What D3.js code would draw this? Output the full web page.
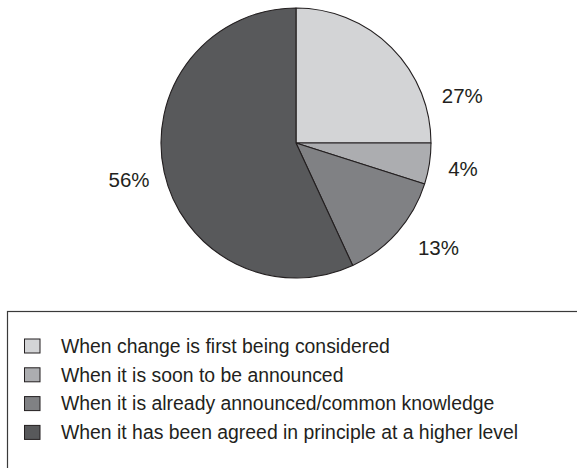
<!DOCTYPE html>
<html>
<head>
<meta charset="utf-8">
<script src="https://cdn.jsdelivr.net/npm/d3@7"></script>
<style>
  body { margin: 0; background: #fff; }
  svg { display: block; font-family: "Liberation Sans", Arial, Helvetica, sans-serif; }
</style>
</head>
<body>
<div id="chart"></div>
<script>
// Categories (legend order = slice order, clockwise from 12 o'clock)
const categories = [
    'When change is first being considered',
    'When it is soon to be announced',
    'When it is already announced/common knowledge',
    'When it has been agreed in principle at a higher level'
];
// Slice sizes as drawn in the picture
const sliceValues = [25, 4.9, 13.2, 56.9];
// Printed labels
const sliceLabels = ['27%', '4%', '13%', '56%'];
const colors = ['#d3d4d6', '#acadb0', '#808184', '#58595b'];

const width = 577;
const height = 468;
const cx = 296;
const cy = 143;
const radius = 135;

const svg = d3.select('#chart')
    .append('svg')
    .attr('width', width)
    .attr('height', height);

const pie = d3.pie().sort(null).value(d => d);
const arcs = pie(sliceValues);

const arc = d3.arc().innerRadius(0).outerRadius(radius);

const g = svg.append('g')
    .attr('transform', `translate(${cx},${cy})`);

g.selectAll('path')
    .data(arcs)
    .enter()
    .append('path')
    .attr('d', arc)
    .attr('fill', (d, i) => colors[i])
    .attr('stroke', '#231f20')
    .attr('stroke-width', 1.1)
    .attr('stroke-linejoin', 'round');

// labels sit outside the pie; nudged along the rim to where the original puts them
const labelShift = [29, 0, -5, 0];   // degrees
const labelRadius = [173, 169, 177, 171];
const labelAngle = (d, i) => (d.startAngle + d.endAngle) / 2 + labelShift[i] * Math.PI / 180;

g.selectAll('.pct')
    .data(arcs)
    .enter()
    .append('text')
    .attr('class', 'pct')
    .attr('x', (d, i) => Math.sin(labelAngle(d, i)) * labelRadius[i])
    .attr('y', (d, i) => -Math.cos(labelAngle(d, i)) * labelRadius[i])
    .attr('dy', '0.35em')
    .attr('text-anchor', 'middle')
    .style('font-size', '20.5px')
    .style('fill', '#231f20')
    .text((d, i) => sliceLabels[i]);

// Legend box (runs off the right and bottom edges)
svg.append('rect')
    .attr('x', 7.5)
    .attr('y', 311.5)
    .attr('width', 600)
    .attr('height', 200)
    .attr('fill', 'none')
    .attr('stroke', '#3a3a3a')
    .attr('stroke-width', 1.2);

const legend = svg.append('g')
    .attr('transform', 'translate(24,346)');

const rows = legend.selectAll('.row')
    .data(categories)
    .enter()
    .append('g')
    .attr('class', 'row')
    .attr('transform', (d, i) => `translate(0,${i * 28.8})`);

rows.append('rect')
    .attr('x', 0.5)
    .attr('y', -7)
    .attr('width', 15.5)
    .attr('height', 14)
    .attr('fill', (d, i) => colors[i])
    .attr('stroke', '#231f20')
    .attr('stroke-width', 1);

rows.append('text')
    .attr('x', 37)
    .attr('dy', '0.35em')
    .style('font-size', '19.4px')
    .style('fill', '#231f20')
    .text(d => d);
</script>
</body>
</html>
